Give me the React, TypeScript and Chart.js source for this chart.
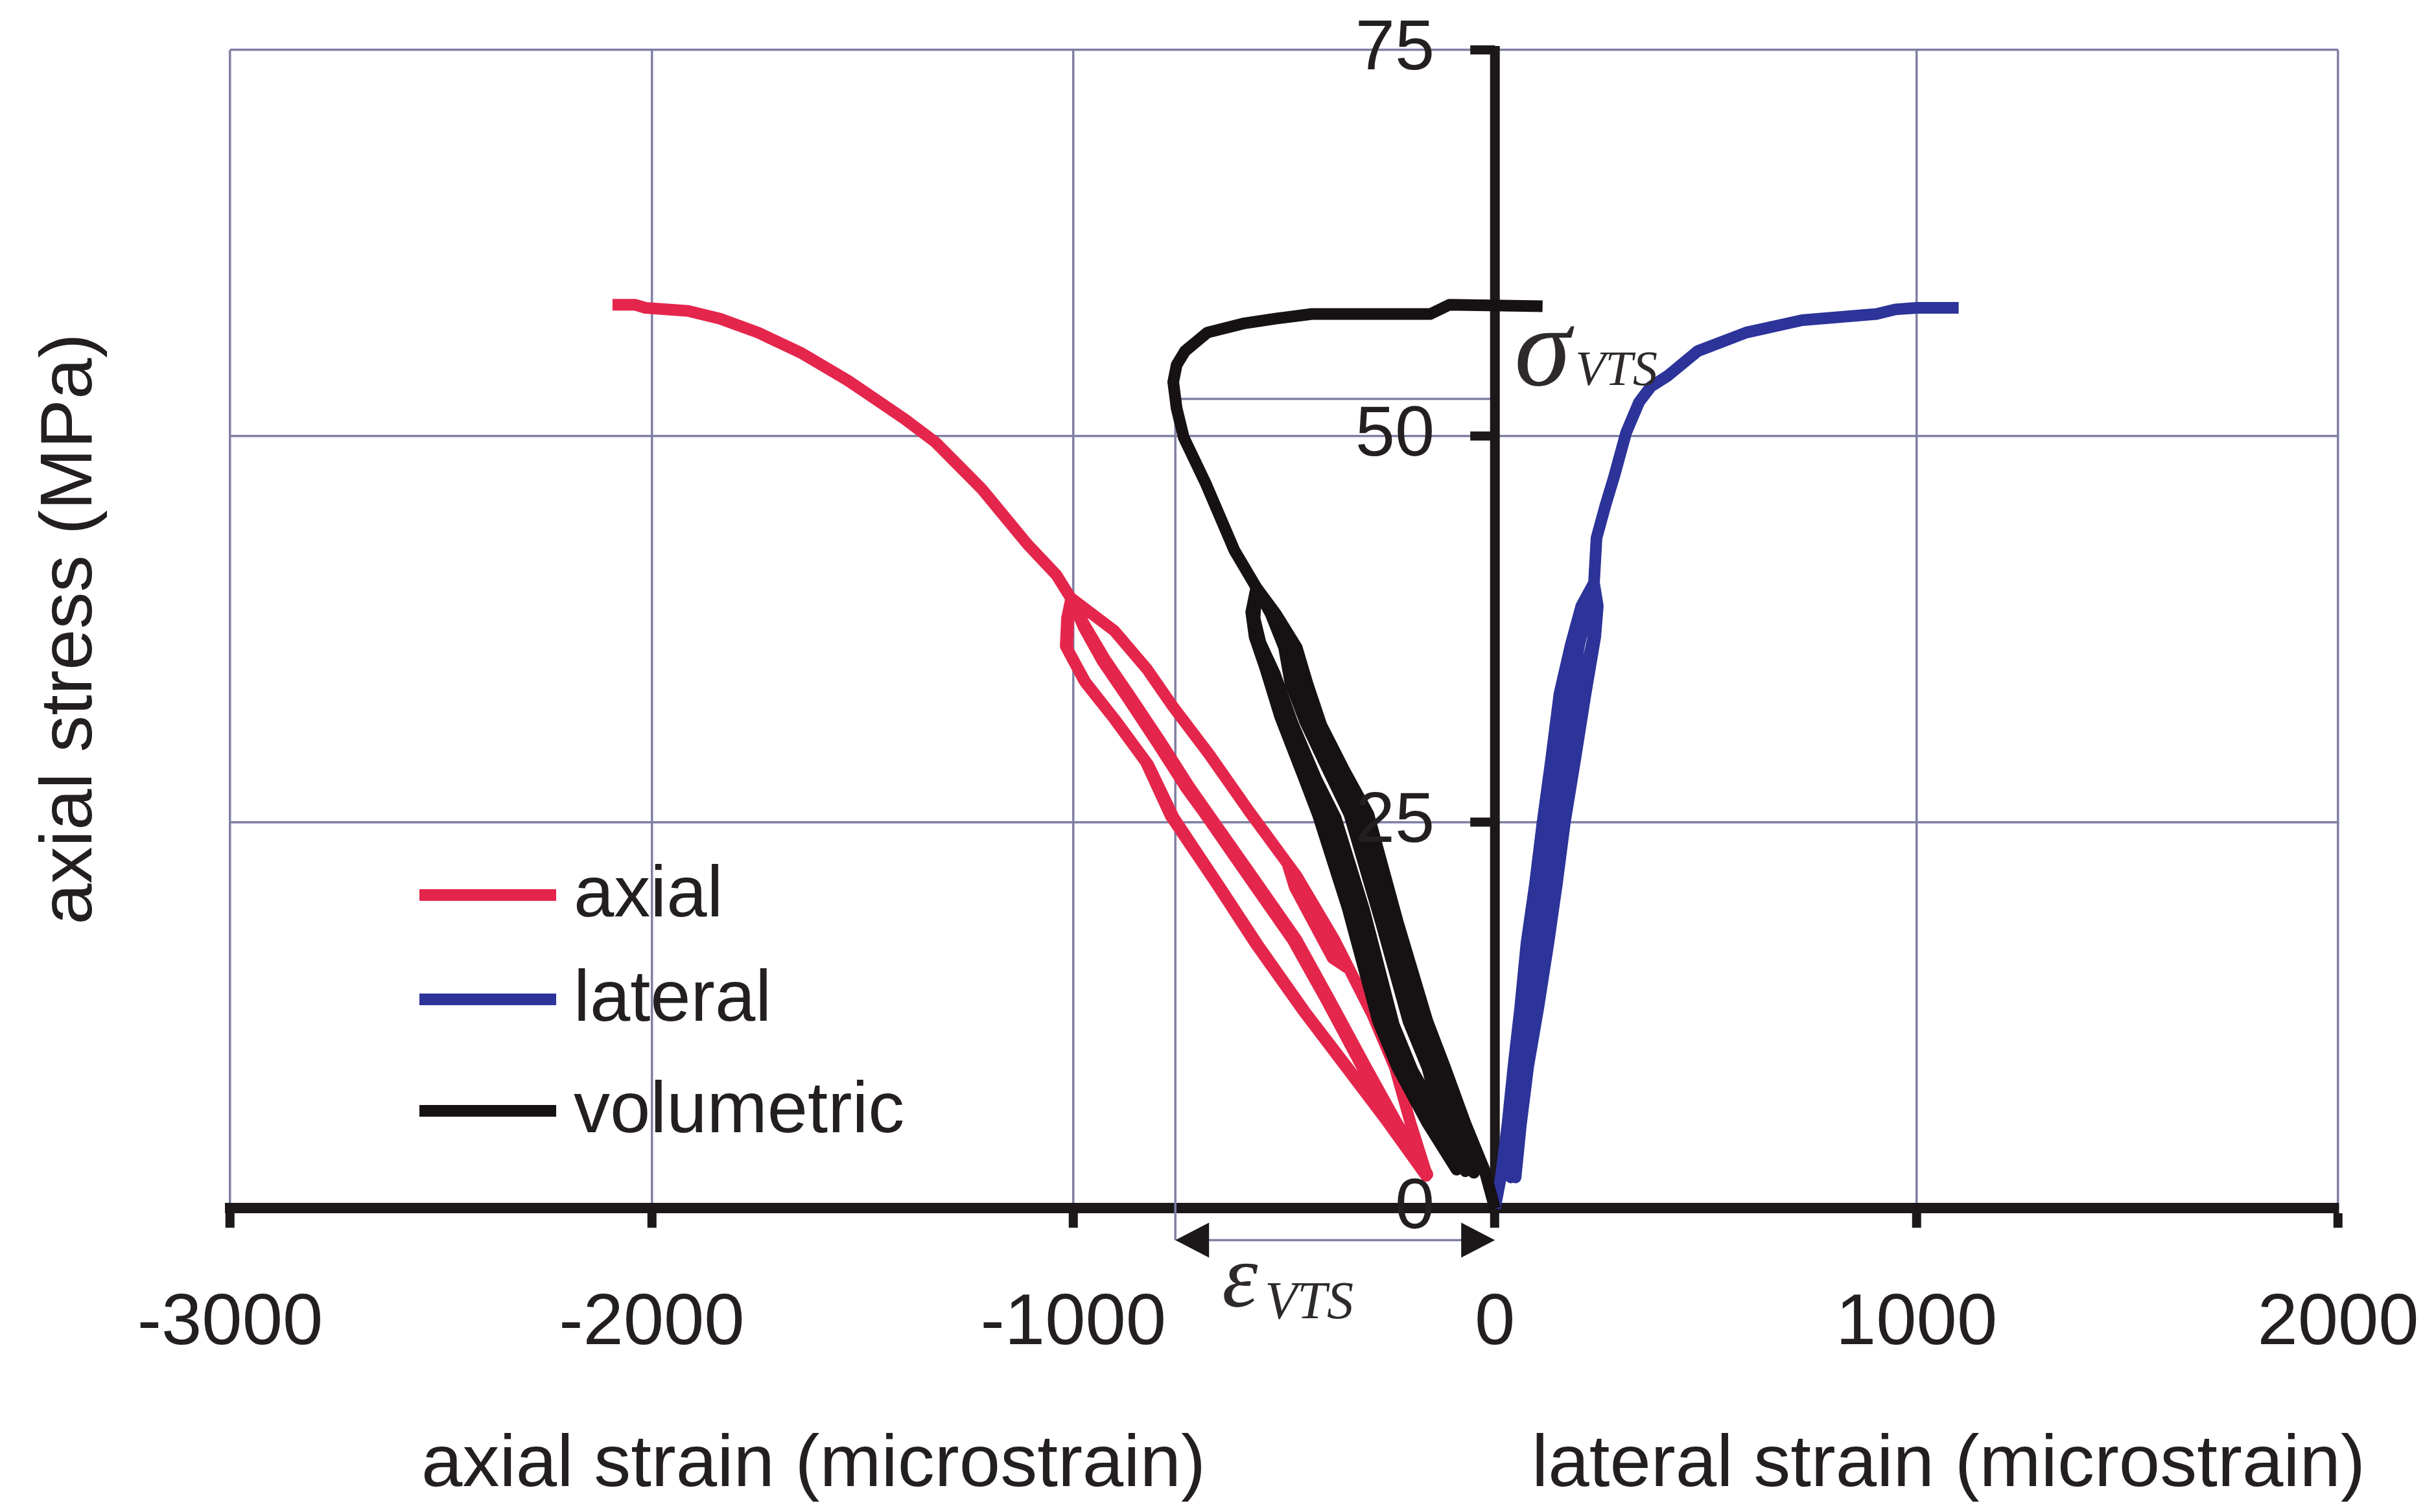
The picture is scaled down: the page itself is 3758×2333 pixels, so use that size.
import { useEffect, useRef } from 'react';
import { Chart, registerables } from 'chart.js';

Chart.register(...registerables);

const W = 3758;
const H = 2333;

// Axial strain (microstrain, compression negative) against axial stress (MPa):
// first loading with a small dip near 20 MPa, two unload/reload loops at about 40 MPa,
// then loading to the peak.
const axialStrain = [
  -163, -200, -237, -290, -381, -470, -492, -475, -428, -385, -352, -416, -470, -583, -678, -764, -825, -903, -1005,
  -1015, -1018, -975, -906, -828, -769, -660, -567, -455, -352, -255, -163,
  -240, -314, -400, -480, -585, -692, -732, -800, -870, -930, -975, -1005,
  -1012, -1014, -970, -900, -822, -762, -655, -561, -450, -346, -250, -160,
  -232, -305, -392, -471, -576, -684, -725, -793, -864, -924, -972, -1008,
  -1040, -1109, -1218, -1327, -1400, -1470, -1535, -1647, -1748, -1838, -1914, -2015, -2040, -2093,
];
const axialStress = [
  2.3, 5.5, 9.1, 12.5, 17.4, 21.5, 22.3, 20.8, 18.4, 16.2, 15.6, 19.0, 21.5, 25.7, 29.4, 32.5, 34.9, 37.4, 39.5,
  38.2, 36.4, 34.2, 31.8, 28.9, 25.4, 21.0, 17.1, 12.8, 9.1, 5.6, 2.1,
  5.5, 9.1, 13.5, 17.4, 21.5, 25.7, 27.2, 30.1, 33.0, 35.4, 37.6, 39.5,
  38.0, 36.2, 34.0, 31.6, 28.7, 25.3, 20.9, 17.0, 12.7, 9.0, 5.5, 2.2,
  5.5, 9.1, 13.5, 17.4, 21.5, 25.7, 27.3, 30.2, 33.1, 35.5, 37.7, 39.6,
  41.0, 43.0, 46.6, 49.6, 51.1, 52.4, 53.6, 55.4, 56.7, 57.6, 58.1, 58.3, 58.5, 58.5,
];

// Lateral strain (microstrain) against axial stress (MPa)
const lateralStrain = [
  0, 14, 30, 44, 60, 75, 95, 113, 133, 153, 180, 205, 235,
  244, 238, 215, 190, 166, 147, 127, 103, 79, 62, 49,
  46, 58, 80, 101, 120, 140, 160, 180, 200, 222, 235,
  242, 232, 202, 177, 153, 134, 114, 91, 68, 52, 38,
  36, 50, 68, 88, 107, 126, 146, 166, 190, 215, 235,
  241, 262, 283, 311, 342, 370, 410, 481, 596, 729, 905, 950, 1000, 1100,
];
const lateralStress = [
  0, 2.0, 5.5, 9.2, 13.0, 17.2, 21.0, 25.0, 29.0, 33.3, 36.5, 39.0, 40.5,
  39.0, 37.0, 33.3, 29.0, 25.0, 21.0, 17.2, 13.0, 9.2, 5.5, 2.0,
  5.5, 9.2, 13.0, 17.2, 21.0, 25.0, 29.0, 33.3, 36.5, 39.0, 40.5,
  38.8, 36.8, 33.1, 28.8, 24.8, 20.8, 17.0, 12.8, 9.0, 5.3, 2.0,
  5.5, 9.2, 13.0, 17.2, 21.0, 25.0, 29.0, 33.3, 36.5, 39.0, 40.5,
  43.4, 45.5, 47.4, 50.2, 52.2, 53.2, 53.9, 55.5, 56.7, 57.5, 57.9, 58.2, 58.3, 58.3,
];

// Volumetric strain (microstrain) against axial stress (MPa)
const volumetricStrain = [
  0, -25, -70, -118, -160, -230, -300, -360, -412, -445, -470, -520, -566,
  -578, -570, -545, -509, -455, -420, -350, -277, -231, -160, -91,
  -125, -160, -205, -270, -345, -398, -450, -485, -500, -532, -566,
  -574, -562, -532, -492, -436, -398, -328, -258, -212, -140, -70,
  -100, -140, -185, -252, -325, -378, -432, -468, -488, -526, -566,
  -570, -556, -522, -480, -424, -378, -310, -240, -195, -120, -50,
  -85, -128, -172, -240, -312, -368, -422, -458, -480, -520, -566,
  -618, -687, -738, -755, -763, -755, -735, -682, -594, -520, -434, -300, -153, -108, 113,
];
const volumetricStress = [
  0, 2.5, 5.5, 9.1, 12.1, 18.5, 25.5, 28.5, 31.3, 34.0, 36.3, 38.5, 40.2,
  38.6, 37.0, 35.0, 31.8, 28.0, 25.5, 19.5, 12.1, 9.1, 5.5, 2.5,
  5.5, 9.1, 12.1, 18.5, 25.5, 28.5, 31.5, 34.0, 36.3, 38.5, 40.2,
  38.4, 36.8, 34.8, 31.6, 27.9, 25.4, 19.4, 12.0, 9.0, 5.4, 2.4,
  5.5, 9.1, 12.1, 18.5, 25.5, 28.5, 31.5, 34.0, 36.3, 38.5, 40.2,
  38.2, 36.6, 34.6, 31.4, 27.8, 25.3, 19.3, 11.9, 8.9, 5.3, 2.3,
  5.5, 9.1, 12.1, 18.5, 25.5, 28.5, 31.5, 34.0, 36.3, 38.5, 40.2,
  42.6, 47.0, 49.9, 51.8, 53.5, 54.6, 55.5, 56.7, 57.3, 57.6, 57.9, 57.9, 57.9, 58.5, 58.4,
];

const seriesLabels = ['axial', 'lateral', 'volumetric'];

const xTickValues = [-3000, -2000, -1000, 0, 1000, 2000];
const xTickLabels = ['-3000', '-2000', '-1000', '0', '1000', '2000'];
const yTickValues = [0, 25, 50, 75];
const yTickLabels = ['0', '25', '50', '75'];

// Volumetric turning point (crack-damage threshold)
const vtsStrain = -758;
const vtsStress = 52.4;

const SANS = '"Liberation Sans", Arial, Helvetica, sans-serif';
const SERIF = '"Liberation Serif", "Times New Roman", "DejaVu Serif", serif';
const TEXT = '#231f20';
const AXIS = '#1c1718';
const GRID = '#8080a4';
const RED = '#e5264c';
const BLUE = '#2c3399';
const BLACK = '#161112';

const toPoints = (xs: number[], ys: number[]) => xs.map((x, i) => ({ x, y: ys[i] }));

const decorPlugin = {
  id: 'decor',
  beforeDatasetsDraw(chart: any) {
    const { ctx, chartArea, scales } = chart;
    const x = scales.x;
    const y = scales.y;
    const x0 = x.getPixelForValue(0);
    const xv = x.getPixelForValue(vtsStrain);
    const yv = y.getPixelForValue(vtsStress);
    const arrowY = chartArea.bottom + 49;
    ctx.save();

    // guide lines from the volumetric turning point
    ctx.strokeStyle = GRID;
    ctx.lineWidth = 3.5;
    ctx.beginPath();
    ctx.moveTo(xv, yv);
    ctx.lineTo(x0, yv);
    ctx.moveTo(xv, yv);
    ctx.lineTo(xv, arrowY);
    ctx.moveTo(xv + 40, arrowY);
    ctx.lineTo(x0 - 40, arrowY);
    ctx.stroke();

    // double-headed arrow for the strain at the turning point
    ctx.fillStyle = AXIS;
    ctx.beginPath();
    ctx.moveTo(xv, arrowY);
    ctx.lineTo(xv + 52, arrowY - 27);
    ctx.lineTo(xv + 52, arrowY + 27);
    ctx.closePath();
    ctx.fill();
    ctx.beginPath();
    ctx.moveTo(x0, arrowY);
    ctx.lineTo(x0 - 52, arrowY - 27);
    ctx.lineTo(x0 - 52, arrowY + 27);
    ctx.closePath();
    ctx.fill();

    // stress axis through zero strain
    ctx.strokeStyle = AXIS;
    ctx.lineWidth = 15;
    ctx.lineCap = 'butt';
    ctx.beginPath();
    ctx.moveTo(x0, y.getPixelForValue(75) - 6);
    ctx.lineTo(x0, chartArea.bottom);
    ctx.stroke();
    ctx.lineWidth = 14;
    for (const t of y.ticks) {
      if (t.value === 0) continue;
      const py = y.getPixelForValue(t.value);
      ctx.beginPath();
      ctx.moveTo(x0 - 38, py);
      ctx.lineTo(x0, py);
      ctx.stroke();
    }
    ctx.restore();
  },
  afterDatasetsDraw(chart: any) {
    const { ctx, chartArea, scales } = chart;
    const x = scales.x;
    const y = scales.y;
    const x0 = x.getPixelForValue(0);
    const xv = x.getPixelForValue(vtsStrain);
    const yv = y.getPixelForValue(vtsStress);
    ctx.save();
    ctx.fillStyle = TEXT;

    // stress tick labels beside the central axis
    ctx.font = `110px ${SANS}`;
    ctx.textAlign = 'right';
    ctx.textBaseline = 'middle';
    for (const t of y.ticks) {
      const i = yTickValues.indexOf(t.value);
      if (i < 0) continue;
      ctx.fillText(yTickLabels[i], x0 - 93, y.getPixelForValue(t.value));
    }

    // legend
    const rows = [1381, 1542, 1714];
    chart.data.datasets.forEach((ds: any, i: number) => {
      ctx.strokeStyle = ds.borderColor;
      ctx.lineWidth = 18;
      ctx.lineCap = 'butt';
      ctx.beginPath();
      ctx.moveTo(647, rows[i]);
      ctx.lineTo(858, rows[i]);
      ctx.stroke();
      ctx.fillStyle = TEXT;
      ctx.font = `112px ${SANS}`;
      ctx.textAlign = 'left';
      ctx.textBaseline = 'alphabetic';
      ctx.fillText(ds.label, 885, rows[i] + 33);
    });

    // axis titles
    ctx.font = `114px ${SANS}`;
    ctx.textAlign = 'center';
    ctx.textBaseline = 'alphabetic';
    ctx.fillText('axial strain (microstrain)', 1255, 2293);
    ctx.fillText('lateral strain (microstrain)', 3006, 2293);
    ctx.save();
    ctx.translate(141, (chartArea.top + chartArea.bottom) / 2);
    ctx.rotate(-Math.PI / 2);
    ctx.fillText('axial stress (MPa)', 0, 0);
    ctx.restore();

    // threshold symbols
    ctx.fillStyle = '#2e2a2b';
    ctx.textAlign = 'left';
    ctx.font = `italic 176px ${SERIF}`;
    ctx.fillText('σ', x0 + 30, yv - 22);
    ctx.font = `italic 76px ${SERIF}`;
    ctx.fillText('VTS', x0 + 124, yv - 22);
    ctx.font = `italic 140px ${SERIF}`;
    ctx.fillText('ε', xv + 72, chartArea.bottom + 152);
    ctx.font = `italic 82px ${SERIF}`;
    ctx.fillText('VTS', xv + 138, chartArea.bottom + 170);
    ctx.restore();
  },
};

export default function App() {
  const canvasRef = useRef<HTMLCanvasElement | null>(null);

  useEffect(() => {
    const canvas = canvasRef.current;
    if (!canvas) return;
    const common = {
      showLine: true,
      pointRadius: 0,
      pointHoverRadius: 0,
      borderWidth: 18,
      tension: 0,
      fill: false,
      clip: false as const,
      borderJoinStyle: 'round' as const,
      borderCapStyle: 'butt' as const,
    };
    const chart = new Chart(canvas, {
      type: 'scatter',
      data: {
        datasets: [
          { ...common, label: seriesLabels[0], data: toPoints(axialStrain, axialStress), borderColor: RED, backgroundColor: RED, order: 1 },
          { ...common, label: seriesLabels[1], data: toPoints(lateralStrain, lateralStress), borderColor: BLUE, backgroundColor: BLUE, order: 2 },
          { ...common, label: seriesLabels[2], data: toPoints(volumetricStrain, volumetricStress), borderColor: BLACK, backgroundColor: BLACK, order: 0 },
        ],
      },
      options: {
        responsive: false,
        devicePixelRatio: 1,
        animation: false,
        events: [],
        layout: { padding: { left: 355, right: 151, top: 77, bottom: 141 } },
        plugins: { legend: { display: false }, tooltip: { enabled: false }, title: { display: false } },
        scales: {
          x: {
            type: 'linear',
            position: 'bottom',
            min: -3000,
            max: 2000,
            afterBuildTicks: (scale: any) => {
              scale.ticks = xTickValues.map((v) => ({ value: v }));
            },
            ticks: {
              autoSkip: false,
              maxRotation: 0,
              padding: 20,
              color: TEXT,
              font: { family: SANS, size: 112, lineHeight: 2.3 },
              callback: (v: any) => {
                const i = xTickValues.indexOf(Number(v));
                return i >= 0 ? xTickLabels[i] : '';
              },
            },
            grid: { color: GRID, lineWidth: 3.5, drawTicks: true, tickLength: 30, tickColor: AXIS, tickWidth: 14 },
            border: { display: true, color: AXIS, width: 16 },
          },
          y: {
            type: 'linear',
            position: 'left',
            min: 0,
            max: 75,
            afterBuildTicks: (scale: any) => {
              scale.ticks = yTickValues.map((v) => ({ value: v }));
            },
            ticks: { display: false },
            grid: { color: GRID, lineWidth: 3.5, drawTicks: false },
            border: { display: false },
          },
        },
      },
      plugins: [decorPlugin],
    } as any);
    return () => chart.destroy();
  }, []);

  return (
    <div style={{ position: 'fixed', left: 0, top: 0, width: W, height: H, background: '#ffffff' }}>
      <canvas ref={canvasRef} width={W} height={H} style={{ display: 'block', width: W, height: H }} />
    </div>
  );
}
